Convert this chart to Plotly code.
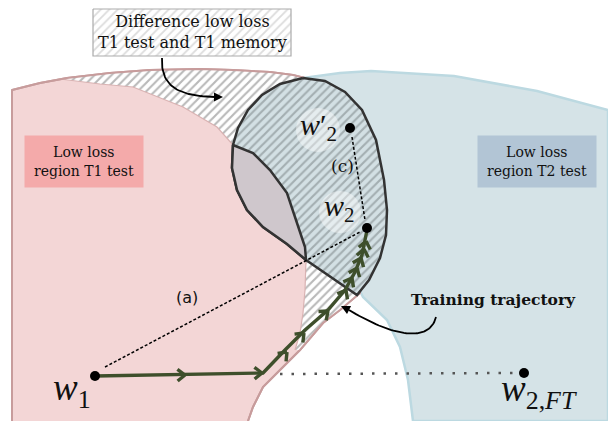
import numpy as np
import plotly.graph_objects as go

W, H = 608, 421

# ---------------- region outlines (diagram coordinates, y down) ----------------
pink_x = [12, 12, 40, 67, 110, 150, 200, 233, 270, 293, 305, 345, 365, 360, 340, 323, 300, 277, 263, 253, 248]
pink_y = [421, 90, 83, 78, 73, 70, 69, 70, 72, 75, 78, 150, 240, 293, 310, 323, 350, 373, 387, 407, 421]

blue_x = [303, 340, 371, 454, 537, 608, 608, 413, 408, 400, 387, 363, 340, 320, 303]
blue_y = [78, 73, 71, 76, 91, 110, 421, 421, 380, 347, 320, 297, 250, 150, 78]

blob_x = [303, 325, 345, 362, 376, 384, 387, 386, 380, 369, 357, 330, 306, 287, 263, 247, 237, 232, 233, 238, 248, 262, 280, 303]
blob_y = [78, 81, 92, 110, 140, 180, 210, 235, 258, 280, 295, 276, 260, 244, 227, 210, 190, 168, 145, 128, 110, 95, 84, 78]

# T1 memory boundary (inner edge of the hatched band)
mem_upper_x = [60, 100, 133, 183, 217, 233]
mem_upper_y = [79, 84, 87, 107, 127, 145]
mem_mid_x = [233, 253, 270, 287, 297, 305, 306]
mem_mid_y = [145, 153, 170, 193, 223, 247, 260]
mem_low_x = [306, 305, 303, 300, 295]
mem_low_y = [260, 290, 313, 333, 350]

# points
w1 = (95, 376)
w2 = (367, 228)
w2p = (350, 128)
w2ft = (524, 373)

# training trajectory
traj_x = [95, 263, 285, 305, 328, 345, 355, 362, 367]
traj_y = [376, 373, 350, 330, 310, 290, 272, 255, 230]
arrow_tip_x = [185, 262, 287, 304, 328, 346, 352, 357, 361, 364, 366]
arrow_tip_y = [375, 373, 352, 333, 311, 290, 278, 268, 258, 249, 241]

fig = go.Figure()

def poly(xs, ys, fill, line_color, line_width, pattern=None):
    kw = {}
    if pattern is not None:
        kw["fillpattern"] = pattern
    fig.add_trace(go.Scatter(x=xs, y=ys, mode="lines", fill="toself", fillcolor=fill,
                             line=dict(color=line_color, width=line_width),
                             hoverinfo="skip", showlegend=False, **kw))

# blue region (T2 test)
poly(blue_x, blue_y, "#d5e3e7", "#bcd9e1", 2.5)
# pink region (T1 test)
poly(pink_x, pink_y, "#f3d6d6", "#c79c9c", 2)

# hatched band (upper)
top_pts = [(x, y) for x, y in zip(pink_x[1:11], pink_y[1:11]) if x >= 60]
band_x = [p[0] for p in top_pts] + [280, 262, 248, 238, 233] + mem_upper_x[::-1]
band_y = [p[1] for p in top_pts] + [84, 95, 110, 128, 145] + mem_upper_y[::-1]
hatch_white = dict(shape="/", bgcolor="white", fgcolor="#b9b9b9", size=6, solidity=0.35, fillmode="replace")
poly(band_x, band_y, "white", "rgba(0,0,0,0)", 0, pattern=hatch_white)
# hatched band (lower)
low_x = [306, 330, 357, 340, 323, 300] + mem_low_x[::-1]
low_y = [260, 276, 295, 310, 323, 350] + mem_low_y[::-1]
poly(low_x, low_y, "white", "rgba(0,0,0,0)", 0, pattern=hatch_white)
# faint memory boundary line
fig.add_trace(go.Scatter(x=mem_upper_x + mem_mid_x[1:] + mem_low_x[1:], y=mem_upper_y + mem_mid_y[1:] + mem_low_y[1:],
                         mode="lines", line=dict(color="#d9b3b3", width=1.2), hoverinfo="skip", showlegend=False))
# re-draw pink edges on top of band
fig.add_trace(go.Scatter(x=pink_x[1:11], y=pink_y[1:11], mode="lines", line=dict(color="#c79c9c", width=2),
                         hoverinfo="skip", showlegend=False))
fig.add_trace(go.Scatter(x=pink_x[13:], y=pink_y[13:], mode="lines", line=dict(color="#c79c9c", width=2),
                         hoverinfo="skip", showlegend=False))

# blob (hatched, blue background)
hatch_blue = dict(shape="/", bgcolor="#d3e0e4", fgcolor="#a3aeb1", size=6, solidity=0.35, fillmode="replace")
poly(blob_x, blob_y, "#d3e0e4", "#333333", 2.5, pattern=hatch_blue)

# grey region
grey_x = [233, 232, 237, 247, 263, 287, 306] + mem_mid_x[::-1][1:]
grey_y = [145, 168, 190, 210, 227, 244, 260] + mem_mid_y[::-1][1:]
poly(grey_x, grey_y, "#cfc7cc", "#333333", 2.5)

# white halos behind w2 / w2'
fig.add_trace(go.Scatter(x=[318, 340], y=[130, 212], mode="markers",
                         marker=dict(size=[44, 42], color="rgba(255,255,255,0.6)", line=dict(width=0)),
                         hoverinfo="skip", showlegend=False))

# dotted lines
fig.add_trace(go.Scatter(x=[105, 360], y=[367, 232], mode="lines",
                         line=dict(color="black", width=1.5, dash="3px,2px"), hoverinfo="skip", showlegend=False))
fig.add_trace(go.Scatter(x=[352, 365], y=[137, 220], mode="lines",
                         line=dict(color="black", width=1.5, dash="3px,2px"), hoverinfo="skip", showlegend=False))
fig.add_trace(go.Scatter(x=[280, 515], y=[374, 373], mode="lines",
                         line=dict(color="#555555", width=2.5, dash="2.5px,9px"), hoverinfo="skip", showlegend=False))

# trajectory
green = "#3e4f2b"
fig.add_trace(go.Scatter(x=traj_x, y=traj_y, mode="lines", line=dict(color=green, width=3.4),
                         hoverinfo="skip", showlegend=False))
# chevrons
tx, ty = np.array(traj_x, float), np.array(traj_y, float)
cx, cy = [], []
for px, py in zip(arrow_tip_x, arrow_tip_y):
    best, d = None, None
    for i in range(len(tx) - 1):
        a = np.array([tx[i], ty[i]]); b = np.array([tx[i + 1], ty[i + 1]])
        ab = b - a; t = np.clip(np.dot([px, py] - a, ab) / np.dot(ab, ab), 0, 1)
        dist = np.linalg.norm(a + t * ab - [px, py])
        if best is None or dist < best:
            best, d = dist, ab / np.linalg.norm(ab)
    L, th = 9.5, np.radians(38)
    for s in (1, -1):
        c, sn = np.cos(s * th), np.sin(s * th)
        r = np.array([d[0] * c - d[1] * sn, d[0] * sn + d[1] * c])
        cx += [px - L * r[0], px, None]
        cy += [py - L * r[1], py, None]
fig.add_trace(go.Scatter(x=cx, y=cy, mode="lines", line=dict(color=green, width=3.4),
                         hoverinfo="skip", showlegend=False))

# points
fig.add_trace(go.Scatter(x=[w1[0], w2[0], w2p[0], w2ft[0]], y=[w1[1], w2[1], w2p[1], w2ft[1]], mode="markers",
                         marker=dict(size=10, color="black"), hoverinfo="skip", showlegend=False))

# curved annotation arrows (cubic Bezier control points)
def bez(p0, p1, p2, p3, n=40):
    t = np.linspace(0, 1, n)[:, None]
    P = (1 - t) ** 3 * np.array(p0) + 3 * (1 - t) ** 2 * t * np.array(p1) + 3 * (1 - t) * t ** 2 * np.array(p2) + t ** 3 * np.array(p3)
    return P[:, 0], P[:, 1]

arrow1_ctrl = [(162, 58), (160, 92), (188, 96), (215, 97)]
arrow2_ctrl = [(436, 317), (430, 342), (395, 338), (349, 310)]
for ctrl in (arrow1_ctrl, arrow2_ctrl):
    bx, by = bez(*ctrl)
    fig.add_trace(go.Scatter(x=bx, y=by, mode="lines", line=dict(color="black", width=1.8),
                             hoverinfo="skip", showlegend=False))

# top hatched box
box_x = [93, 291, 291, 93, 93]
box_y = [9, 9, 56, 56, 9]
hatch_box = dict(shape="/", bgcolor="white", fgcolor="#dcdcdc", size=6, solidity=0.3, fillmode="replace")
poly(box_x, box_y, "white", "#ababab", 1.2, pattern=hatch_box)

serif = "DejaVu Serif"
ann = []
ann.append(dict(x=192, y=32, text="Difference low loss<br>T1 test and T1 memory", showarrow=False,
                font=dict(family=serif, size=16, color="#111")))
ann.append(dict(x=84, y=161.5, text="Low loss<br>region T1 test", showarrow=False, width=116, height=49,
                bgcolor="#f4aaaa", font=dict(family=serif, size=14, color="#111")))
ann.append(dict(x=537, y=161.5, text="Low loss<br>region T2 test", showarrow=False, width=116, height=49,
                bgcolor="#b2c5d5", font=dict(family=serif, size=14, color="#111")))
ann.append(dict(x=493, y=299, text="<b>Training trajectory</b>", showarrow=False,
                font=dict(family=serif, size=15.5, color="#111")))
ann.append(dict(x=187, y=297, text="(a)", showarrow=False, font=dict(family="DejaVu Sans", size=16, color="#111")))
ann.append(dict(x=342, y=166, text="(c)", showarrow=False, font=dict(family=serif, size=17, color="#111")))
wfont = "Liberation Serif"
ann.append(dict(x=72, y=390, text="<i>w</i><sub>1</sub>", showarrow=False, font=dict(family=wfont, size=37, color="#111")))
ann.append(dict(x=339, y=208, text="<i>w</i><sub>2</sub>", showarrow=False, font=dict(family=wfont, size=30, color="#111")))
ann.append(dict(x=318, y=127, text="<i>w</i>′<sub>2</sub>", showarrow=False, font=dict(family=wfont, size=30, color="#111")))
ann.append(dict(x=539, y=391, text="<i>w</i><sub>2,<i>FT</i></sub>", showarrow=False, font=dict(family=wfont, size=37, color="#111")))
# arrowheads
ann.append(dict(x=223, y=97, ax=213, ay=97, axref="x", ayref="y", text="", showarrow=True,
                arrowhead=2, arrowsize=1, arrowwidth=1.8, arrowcolor="black"))
ann.append(dict(x=341, y=306, ax=350, ay=310.5, axref="x", ayref="y", text="", showarrow=True,
                arrowhead=2, arrowsize=1, arrowwidth=1.8, arrowcolor="black"))
for a in ann:
    a.setdefault("xref", "x"); a.setdefault("yref", "y")

fig.update_layout(width=W, height=H, margin=dict(l=0, r=0, t=0, b=0),
                  paper_bgcolor="white", plot_bgcolor="white", annotations=ann,
                  xaxis=dict(range=[0, W], visible=False, fixedrange=True),
                  yaxis=dict(range=[H, 0], visible=False, fixedrange=True))
fig.write_html("out.html", config={"displayModeBar": False},
               post_script="document.body.style.margin='0';document.body.style.overflow='hidden';")
